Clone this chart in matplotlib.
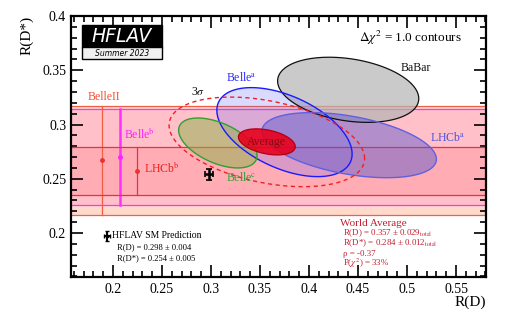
import numpy as np
import matplotlib
matplotlib.use("Agg")
import matplotlib.pyplot as plt
from matplotlib.patches import Polygon, Rectangle
from matplotlib.ticker import MultipleLocator

# ---------------- data ----------------
# 2D measurements: name, R(D), sigma R(D), R(D*), sigma R(D*), correlation
ellipse_names = ["BaBar", "Belle^a", "LHCb^a", "Belle^c", "Average"]
ellipse_rd = [0.440, 0.375, 0.441, 0.307, 0.357]
ellipse_rd_err = [0.072, 0.069, 0.089, 0.040, 0.029]
ellipse_rds = [0.332, 0.293, 0.281, 0.283, 0.284]
ellipse_rds_err = [0.030, 0.041, 0.030, 0.023, 0.012]
ellipse_rho = [-0.27, -0.49, -0.43, -0.51, -0.37]

# 1D R(D*) measurements (bands)
band_names = ["BelleII", "Belle^b", "LHCb^b"]
band_rds = [0.267, 0.270, 0.257]
band_rds_err = [0.050, 0.044, 0.022]

# SM prediction
sm_rd, sm_rd_err = 0.298, 0.004
sm_rds, sm_rds_err = 0.254, 0.005

delta_chi2_1s = 1.0
delta_chi2_3s = 11.83

# ---------------- figure ----------------
plt.rcParams['font.family'] = ['Liberation Serif', 'DejaVu Serif']
plt.rcParams['mathtext.fontset'] = 'stix'
fig = plt.figure(figsize=(5.12, 3.30), dpi=100)
ax = fig.add_axes([71/512, 1-277/330, (486-71)/512, (277-16)/330])
ax.set_xlim(0.1572, 0.5806)
ax.set_ylim(0.1595, 0.4)


def ellipse_xy(mx, sx, my, sy, rho, dchi2, n=200):
    t = np.linspace(0, 2*np.pi, n)
    k = np.sqrt(dchi2)
    x = mx + k*sx*np.cos(t)
    y = my + k*sy*(rho*np.cos(t) + np.sqrt(1-rho**2)*np.sin(t))
    return np.column_stack([x, y])

# ---- bands ----
band_fill = ["#ff8c64", "#ff40c0", "#ff0000"]
band_fill_alpha = [0.33, 0.16, 0.10]
band_line = ["#f06040", "#ff30ff", "#f03030"]
band_vx = [0.189, 0.207, 0.2245]
band_vlw = [0.9, 1.8, 0.9]
marker_col = ["#f03030", "#ff20ff", "#f03030"]
for i in range(3):
    lo = band_rds[i] - band_rds_err[i]
    hi = band_rds[i] + band_rds_err[i]
    ax.axhspan(lo, hi, color=band_fill[i], alpha=band_fill_alpha[i], lw=0, zorder=1)
    ax.axhline(lo, color=band_line[i], lw=0.9, zorder=2)
    ax.axhline(hi, color=band_line[i], lw=0.9, zorder=2)
    ax.plot([band_vx[i], band_vx[i]], [lo, hi], color=band_line[i], lw=band_vlw[i], zorder=2)
    ax.plot(band_vx[i], band_rds[i], 'o', color=marker_col[i], ms=2.5, zorder=3)

# ---- ellipses ----
styles = {
    "BaBar": dict(fc="#b4b4b4", alpha=0.7, ec="#111111", lw=0.9),
    "Belle^a": dict(fc="#5a5aff", alpha=0.22, ec="#1a1aff", lw=1.0),
    "LHCb^a": dict(fc="#5555cc", alpha=0.45, ec="#6060e0", lw=1.0),
    "Belle^c": dict(fc="#96b050", alpha=0.55, ec="#30a030", lw=1.0),
    "Average": dict(fc="#e8001c", alpha=0.9, ec="#b00010", lw=0.9),
}
for i in [0, 1, 2, 3]:
    st = styles[ellipse_names[i]]
    xy = ellipse_xy(ellipse_rd[i], ellipse_rd_err[i], ellipse_rds[i], ellipse_rds_err[i],
                    ellipse_rho[i], delta_chi2_1s)
    ax.add_patch(Polygon(xy, closed=True, facecolor=st["fc"], alpha=st["alpha"], lw=0, zorder=4))
    ax.add_patch(Polygon(xy, closed=True, fill=False, edgecolor=st["ec"], lw=st["lw"], zorder=5))

# 3 sigma contour of average
xy3 = ellipse_xy(ellipse_rd[4], ellipse_rd_err[4], ellipse_rds[4], ellipse_rds_err[4],
                 ellipse_rho[4], delta_chi2_3s)
ax.add_patch(Polygon(xy3, closed=True, fill=False, edgecolor="#f02020", lw=1.0,
                     ls=(0, (3, 2.5)), zorder=6))
# average ellipse
st = styles["Average"]
xya = ellipse_xy(ellipse_rd[4], ellipse_rd_err[4], ellipse_rds[4], ellipse_rds_err[4],
                 ellipse_rho[4], delta_chi2_1s)
ax.add_patch(Polygon(xya, closed=True, facecolor=st["fc"], alpha=st["alpha"], lw=0, zorder=7))
ax.add_patch(Polygon(xya, closed=True, fill=False, edgecolor=st["ec"], lw=st["lw"], zorder=7))

# SM prediction
ax.errorbar(sm_rd, sm_rds, xerr=sm_rd_err, yerr=sm_rds_err, fmt='s', color='black',
            ms=2, elinewidth=1.8, capsize=2.0, capthick=1.2, zorder=8)

# ---- labels ----
fs = 8.5
ax.text(0.315, 0.343, r"Belle$^{\mathrm{a}}$", color="#2a2aff", fontsize=fs, va='center', zorder=9)
ax.text(0.493, 0.352, "BaBar", color="#111111", fontsize=fs, va='center', zorder=9)
ax.text(0.280, 0.330, r"3$\sigma$", color="#111111", fontsize=fs, va='center', zorder=9)
ax.text(0.1745, 0.3254, "BelleII", color="#f05030", fontsize=fs, va='center', zorder=9)
ax.text(0.211, 0.292, r"Belle$^{\mathrm{b}}$", color="#ff20ff", fontsize=fs, va='center', zorder=9)
ax.text(0.2316, 0.2608, r"LHCb$^{\mathrm{b}}$", color="#f02020", fontsize=fs, va='center', zorder=9)
ax.text(ellipse_rd[4], ellipse_rds[4], "Average", color="#8a0a10", fontsize=fs,
        ha='center', va='center', zorder=9)
ax.text(0.315, 0.2516, r"Belle$^{\mathrm{c}}$", color="#30a030", fontsize=fs, va='center', zorder=9)
ax.text(0.5235, 0.2885, r"LHCb$^{\mathrm{a}}$", color="#5050e0", fontsize=fs, va='center', zorder=9)
ax.text(0.451, 0.3797, r"$\Delta\chi^2$ = 1.0 contours", color="black", fontsize=9.5,
        va='center', zorder=9)

# SM legend
T = ax.transAxes
def axp(px, py):
    return ((px-71)/415, (277-py)/261)
ax.errorbar(*axp(107, 236), xerr=0.008, yerr=0.018, fmt='s', color='black', ms=2,
            elinewidth=1.5, capsize=1.5, transform=T, zorder=9, clip_on=False)
ax.text(*axp(112, 236), "HFLAV SM Prediction", transform=T, fontsize=6.9, va='center')
ax.text(*axp(117, 247), "R(D) = 0.298 ± 0.004", transform=T, fontsize=6.1, va='center')
ax.text(*axp(117, 258), "R(D*) = 0.254 ± 0.005", transform=T, fontsize=6.1, va='center')

wc = "#c02030"
ax.text(*axp(340, 223), "World Average", transform=T, fontsize=8, va='center', color=wc)
ax.text(*axp(343, 233), r"R(D) = 0.357 ± 0.029$_{\mathrm{total}}$", transform=T, fontsize=6.4,
        va='center', color=wc)
ax.text(*axp(343, 243.5), r"R(D*) = 0.284 ± 0.012$_{\mathrm{total}}$", transform=T, fontsize=6.4,
        va='center', color=wc)
ax.text(*axp(343, 253.5), "ρ = -0.37", transform=T, fontsize=6.4, va='center', color=wc)
ax.text(*axp(343, 263), r"P($\chi^2$) = 33%", transform=T, fontsize=6.4, va='center', color=wc)

# HFLAV logo
x0, y0 = axp(82, 47.5)
x1, y1 = axp(162, 25)
ax.add_patch(Rectangle((x0, y0), x1-x0, y1-y0, transform=T, facecolor='black',
                       edgecolor='black', lw=1, zorder=10))
ax.text((x0+x1)/2, (y0+y1)/2, "HFLAV", transform=T, color='white', fontsize=13.5,
        fontstyle='italic', family='DejaVu Sans', ha='center', va='center', zorder=11)
x2, y2 = axp(82, 58.5)
ax.add_patch(Rectangle((x2, y2), x1-x2, y0-y2, transform=T, facecolor='#f0f0f0',
                       edgecolor='black', lw=1, zorder=10))
ax.text((x0+x1)/2, (y0+y2)/2, "Summer 2023", transform=T, color='black', fontsize=5.5,
        fontstyle='italic', family='DejaVu Sans', ha='center', va='center', zorder=11)

# ---- axes style ----
ax.xaxis.set_major_locator(MultipleLocator(0.05))
ax.xaxis.set_minor_locator(MultipleLocator(0.01))
ax.yaxis.set_major_locator(MultipleLocator(0.05))
ax.yaxis.set_minor_locator(MultipleLocator(0.01))
ax.tick_params(which='both', direction='in', top=True, right=True, width=1.2, labelsize=10)
ax.tick_params(which='major', length=8.5)
ax.tick_params(which='minor', length=4.5)
ax.set_xticks([0.2, 0.25, 0.3, 0.35, 0.4, 0.45, 0.5, 0.55])
ax.set_xticklabels(["0.2", "0.25", "0.3", "0.35", "0.4", "0.45", "0.5", "0.55"])
ax.set_yticks([0.2, 0.25, 0.3, 0.35, 0.4])
ax.set_yticklabels(["0.2", "0.25", "0.3", "0.35", "0.4"])
ax.tick_params(axis='x', pad=4)
for s in ax.spines.values():
    s.set_linewidth(1.6)
ax.set_xlabel("R(D)", fontsize=11, loc='right', labelpad=0)
ax.set_ylabel("R(D*)", fontsize=11, loc='top', labelpad=6)

fig.savefig("out.png", dpi=100)
